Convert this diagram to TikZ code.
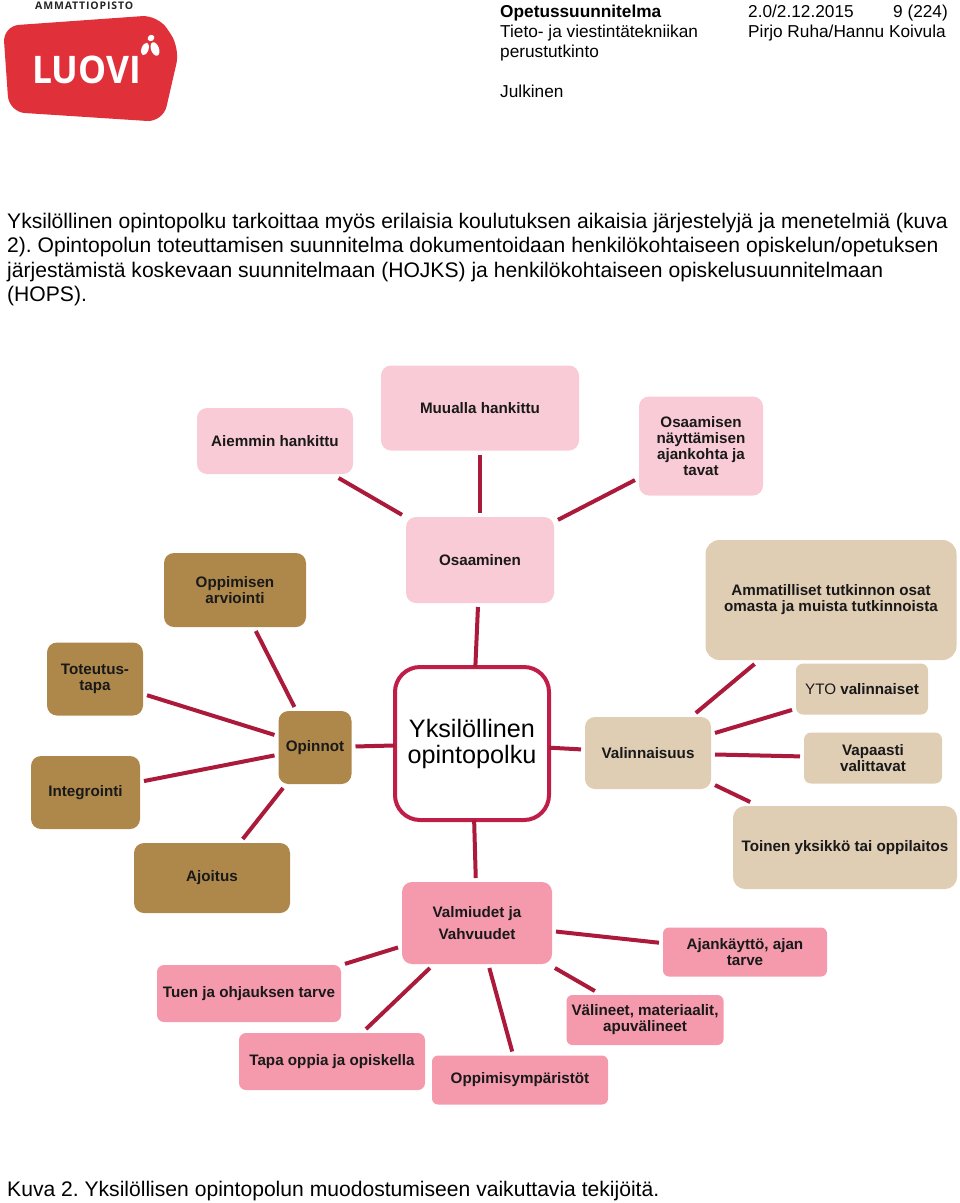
\documentclass[tikz,border=0pt]{standalone}
\usepackage{fontspec}
\setmainfont{Liberation Sans}
\newfontfamily\logofont[FakeStretch=0.93]{Open Sans}
\newfontfamily\logotopfont[LetterSpace=8]{Open Sans}
\frenchspacing
\definecolor{linkred}{HTML}{AB1A3B}
\definecolor{rimred}{HTML}{BE1E47}
\definecolor{logored}{HTML}{E0303A}
\definecolor{palepink}{HTML}{F9CBD6}
\definecolor{midpink}{HTML}{F49AAC}
\definecolor{brownbox}{HTML}{AE884B}
\definecolor{tanbox}{HTML}{DFCDB4}
\tikzset{
  card/.style={rounded corners=10pt,inner sep=0pt,outer sep=4pt,align=center,text=black!90,
    font=\bfseries\fontsize{15.2}{16}\selectfont},
  pale/.style={card,fill=palepink},
  mid/.style={card,fill=midpink},
  brown/.style={card,fill=brownbox},
  tan/.style={card,fill=tanbox},
  link/.style={draw=linkred,line width=4pt},
  para/.style={anchor=base west,inner sep=0pt,font=\fontsize{21.1}{24}\selectfont},
  head/.style={anchor=base west,inner sep=0pt,font=\fontsize{17.25}{20}\selectfont}
}
\begin{document}
\begin{tikzpicture}[x=1pt,y=-1pt]
\useasboundingbox (0,0) rectangle (960,1203);
\fill [logored,rounded corners=16pt] (3,26) -- (158,15) -- (180,48) -- (163,122) -- (9,112) -- cycle;
\fill [white,rotate around={-20:(145,49)}] (145,49) ellipse (3.5 and 6.5);
\fill [white,rotate around={20:(155,49)}] (155,49) ellipse (4 and 7);
\fill [white,rotate around={30:(151,38)}] (151,38) ellipse (3.5 and 3);
\node (logotop) [anchor=base west,inner sep=0pt,font=\logotopfont\bfseries\fontsize{10.5}{12}\selectfont,text=black!85] at (35,9) {AMMATTIOPISTO};
\node (logoname) [anchor=base west,inner sep=0pt,text=white,font=\logofont\bfseries\fontsize{38}{40}\selectfont] at (32,83) {LUOVI};

\node (title) [head,font=\bfseries\fontsize{17.25}{20}\selectfont] at (500,17) {Opetussuunnitelma};
\node (version) [head] at (748,17) {2.0/2.12.2015};
\node (pagenum) [head,anchor=base east] at (948,17) {9 (224)};
\node (degree) [head] at (500,37) {Tieto- ja viestintätekniikan};
\node (authors) [head] at (748,37) {Pirjo Ruha/Hannu Koivula};
\node (degreeb) [head] at (500,57) {perustutkinto};
\node (public) [head] at (500,97) {Julkinen};

\node (parai) [para] at (7,228) {Yksilöllinen opintopolku tarkoittaa myös erilaisia koulutuksen aikaisia järjestelyjä ja menetelmiä (kuva};
\node (paraii) [para] at (7,252) {2). Opintopolun toteuttamisen suunnitelma dokumentoidaan henkilökohtaiseen opiskelun/opetuksen};
\node (paraiii) [para] at (7,277) {järjestämistä koskevaan suunnitelmaan (HOJKS) ja henkilökohtaiseen opiskelusuunnitelmaan};
\node (paraiv) [para] at (7,301) {(HOPS).};

\node (aiemmin) [pale,minimum width=156pt,minimum height=66pt] at (275,441) {Aiemmin hankittu};
\node (muualla) [pale,minimum width=198pt,minimum height=85pt] at (480,408) {Muualla hankittu};
\node (nayttaminen) [pale,minimum width=124pt,minimum height=99pt] at (701,446) {Osaamisen\\näyttämisen\\ajankohta ja\\tavat};
\node (osaaminen) [pale,minimum width=148pt,minimum height=86pt] at (480,560) {Osaaminen};

\node (arviointi) [brown,minimum width=142pt,minimum height=74pt] at (235,590) {Oppimisen\\arviointi};
\node (toteutus) [brown,minimum width=96pt,minimum height=73pt] at (95,679) {Toteutus-\\tapa};
\node (integrointi) [brown,minimum width=109pt,minimum height=73pt] at (85.5,792.5) {Integrointi};
\node (opinnot) [brown,minimum width=73pt,minimum height=73pt] at (315,747.5) {Opinnot};
\node (ajoitus) [brown,minimum width=156pt,minimum height=70pt] at (212,878) {Ajoitus};

\node (polku) [rounded corners=25pt,draw=rimred,line width=4pt,fill=white,outer sep=0pt,inner sep=0pt,align=center,
  minimum width=154pt,minimum height=153pt,font=\fontsize{25.2}{26}\selectfont] at (472,743.5) {Yksilöllinen\\opintopolku};

\node (ammatilliset) [tan,minimum width=251pt,minimum height=120pt,rounded corners=14pt] at (831,600) {Ammatilliset tutkinnon osat\\omasta ja muista tutkinnoista};
\node (valinnaisuus) [tan,minimum width=126pt,minimum height=72pt] at (648,753) {Valinnaisuus};
\node (yto) [tan,minimum width=132pt,minimum height=51pt,rounded corners=7pt] at (862,689) {\mdseries YTO \bfseries valinnaiset};
\node (vapaasti) [tan,minimum width=138pt,minimum height=51pt,rounded corners=7pt] at (873,758) {Vapaasti\\valittavat};
\node (toinen) [tan,minimum width=224pt,minimum height=83pt,rounded corners=12pt] at (845,847.5) {Toinen yksikkö tai oppilaitos};

\node (valmiudet) [mid,minimum width=150pt,minimum height=82pt] at (477,923) {Valmiudet ja\\[6pt]Vahvuudet};
\node (ajankaytto) [mid,minimum width=164pt,minimum height=49pt,rounded corners=6pt] at (745,952) {Ajankäyttö, ajan\\tarve};
\node (valineet) [mid,minimum width=157pt,minimum height=50pt,rounded corners=6pt] at (645,1020) {Välineet, materiaalit,\\apuvälineet};
\node (ymparistot) [mid,minimum width=176pt,minimum height=49pt,rounded corners=6pt] at (520,1080) {Oppimisympäristöt};
\node (tapa) [mid,minimum width=186pt,minimum height=57pt,rounded corners=7pt] at (332,1061.5) {Tapa oppia ja opiskella};
\node (tuen) [mid,minimum width=184pt,minimum height=57pt,rounded corners=7pt] at (249,993.5) {Tuen ja ohjauksen tarve};

\draw [link] (aiemmin) -- (osaaminen);
\draw [link] (muualla) -- (osaaminen);
\draw [link] (nayttaminen) -- (osaaminen);
\draw [link] (osaaminen) -- (polku);
\draw [link] (arviointi) -- (opinnot);
\draw [link] (toteutus) -- (opinnot);
\draw [link] (integrointi) -- (opinnot);
\draw [link] (ajoitus) -- (opinnot);
\draw [link] (opinnot) -- (polku);
\draw [link] (polku) -- (valinnaisuus);
\draw [link] (valinnaisuus) -- (ammatilliset);
\draw [link] (valinnaisuus) -- (yto);
\draw [link] (valinnaisuus) -- (vapaasti);
\draw [link] (valinnaisuus) -- (toinen);
\draw [link] (polku) -- (valmiudet);
\draw [link] (valmiudet) -- (ajankaytto);
\draw [link] (valmiudet) -- (valineet);
\draw [link] (valmiudet) -- (ymparistot);
\draw [link] (valmiudet) -- (tapa);
\draw [link] (valmiudet) -- (tuen);

\node (caption) [para] at (7,1196) {Kuva 2. Yksilöllisen opintopolun muodostumiseen vaikuttavia tekijöitä.};
\end{tikzpicture}
\end{document}
